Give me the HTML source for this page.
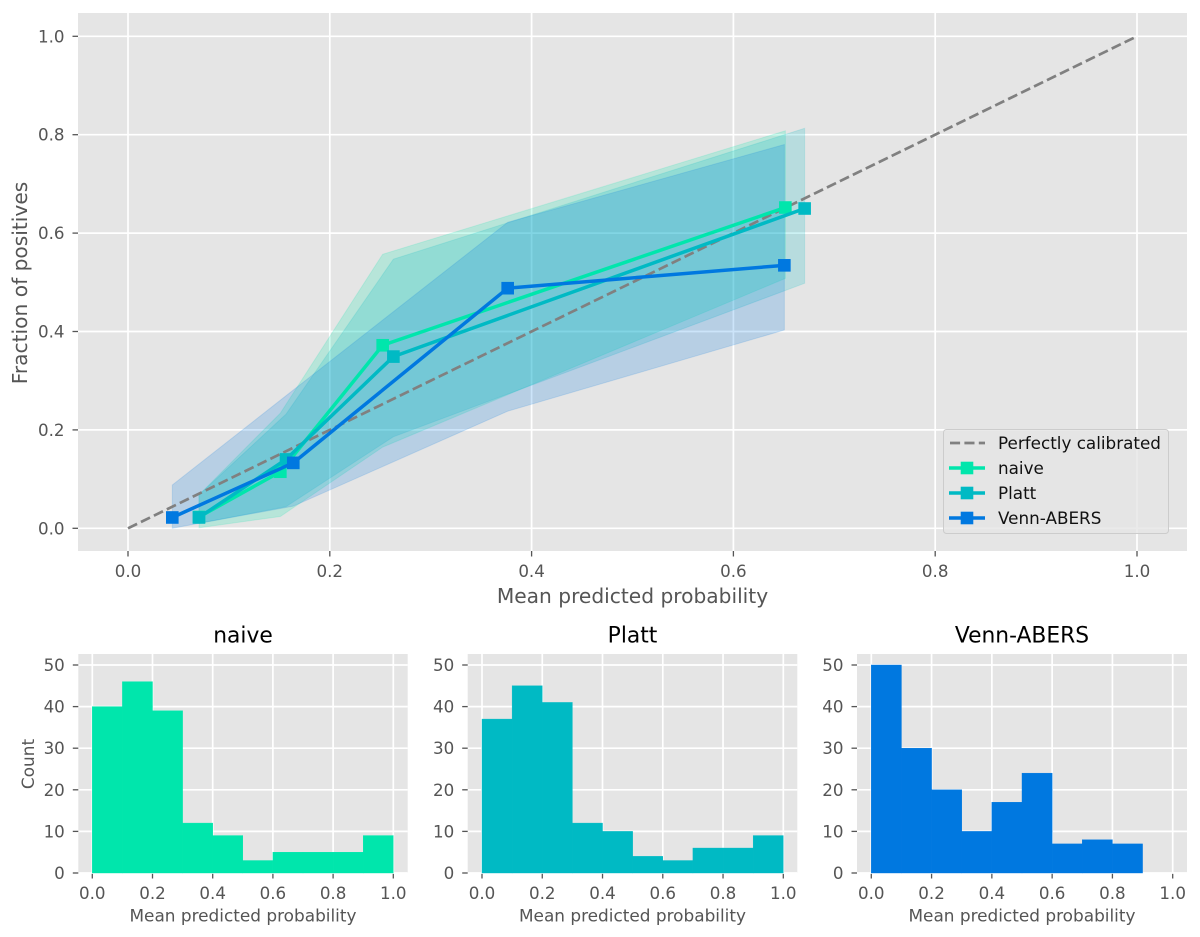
<!DOCTYPE html>
<html lang="en">
<head>
<meta charset="utf-8">
<title>Calibration curves</title>
<style>
html,body{margin:0;padding:0;background:#fff;}
svg{display:block;font-family:"DejaVu Sans","Liberation Sans",sans-serif;}
</style>
</head>
<body>
<svg id="chart" xmlns="http://www.w3.org/2000/svg" width="1200" height="937" viewBox="0 0 1200 937"></svg>
<script>
const mainXTicks = [0, 0.2, 0.4, 0.6, 0.8, 1];
const mainYTicks = [0, 0.2, 0.4, 0.6, 0.8, 1];
const histXTicks = [0, 0.2, 0.4, 0.6, 0.8, 1];
const histYTicks = [0, 10, 20, 30, 40, 50];
const diagonalX = [0, 1];
const diagonalY = [0, 1];

const naiveX = [0.0704, 0.151, 0.2524, 0.6515];
const naiveY = [0.023, 0.115, 0.372, 0.652];
const naiveLower = [0.001, 0.024, 0.165, 0.508];
const naiveUpper = [0.068, 0.234, 0.557, 0.808];

const plattX = [0.0703, 0.1566, 0.263, 0.6706];
const plattY = [0.022, 0.14, 0.349, 0.65];
const plattLower = [0.01, 0.044, 0.186, 0.498];
const plattUpper = [0.068, 0.232, 0.547, 0.813];

const vennX = [0.0439, 0.1638, 0.3763, 0.6505];
const vennY = [0.022, 0.133, 0.488, 0.5345];
const vennLower = [0, 0.045, 0.238, 0.403];
const vennUpper = [0.088, 0.281, 0.622, 0.78];

const histBins = [0, 0.1, 0.2, 0.3, 0.4, 0.5, 0.6, 0.7, 0.8, 0.9, 1];
const naiveCounts = [40, 46, 39, 12, 9, 3, 5, 5, 5, 9];
const plattCounts = [37, 45, 41, 12, 10, 4, 3, 6, 6, 9];
const vennCounts = [50, 30, 20, 10, 17, 24, 7, 8, 7, 0];

const NAIVE = '#00e6ac', PLATT = '#00bac4', VENN = '#0078e0';
const svg = document.getElementById('chart');
const NS = 'http://www.w3.org/2000/svg';

function make(parent, tag, attrs, name, text) {
  const el = document.createElementNS(NS, tag);
  for (const k in attrs) el.setAttribute(k, attrs[k]);
  
  
  if (text !== undefined) el.textContent = text;
  parent.appendChild(el);
  return el;
}

function drawAxes(g, prefix, box, sx, sy, xTicks, yTicks, fmtY) {
  make(g, 'rect', {x: box.l, y: box.t, width: box.r - box.l, height: box.b - box.t, fill: '#e5e5e5'}, prefix + '-plot-area');
  xTicks.forEach(t => {
    make(g, 'line', {x1: sx(t), x2: sx(t), y1: box.t, y2: box.b, stroke: '#fff', 'stroke-width': 1.7}, prefix + '-x-grid-line');
    make(g, 'line', {x1: sx(t), x2: sx(t), y1: box.b, y2: box.b + 5.5, stroke: '#555', 'stroke-width': 1.3}, prefix + '-x-tick');
    make(g, 'text', {x: sx(t), y: box.b + 26, 'text-anchor': 'middle', 'font-size': 16.7, fill: '#555'}, prefix + '-x-tick-label', t.toFixed(1));
  });
  yTicks.forEach(t => {
    make(g, 'line', {x1: box.l, x2: box.r, y1: sy(t), y2: sy(t), stroke: '#fff', 'stroke-width': 1.7}, prefix + '-y-grid-line');
    make(g, 'line', {x1: box.l - 5.5, x2: box.l, y1: sy(t), y2: sy(t), stroke: '#555', 'stroke-width': 1.3}, prefix + '-y-tick');
    make(g, 'text', {x: box.l - 13.5, y: sy(t) + 6, 'text-anchor': 'end', 'font-size': 16.7, fill: '#555'}, prefix + '-y-tick-label', fmtY(t));
  });
}

/* ---------- main calibration plot ---------- */
const mainBox = {l: 78, r: 1187, t: 13, b: 551};
const mx = v => 128 + v * 1009;
const my = v => 528.3 - v * 492;
const mainG = make(svg, 'g', {}, 'calibration-plot');
drawAxes(mainG, 'main', mainBox, mx, my, mainXTicks, mainYTicks, t => t.toFixed(1));

function drawBand(xs, lo, hi, color, name) {
  const upper = xs.map((x, i) => mx(x) + ',' + my(hi[i]));
  const lower = xs.map((x, i) => mx(x) + ',' + my(lo[i])).reverse();
  make(mainG, 'polygon', {points: upper.concat(lower).join(' '), fill: color, 'fill-opacity': 0.2, stroke: color, 'stroke-opacity': 0.15, 'stroke-width': 1}, name);
}
drawBand(naiveX, naiveLower, naiveUpper, NAIVE, 'naive-confidence-band');
drawBand(plattX, plattLower, plattUpper, PLATT, 'platt-confidence-band');
drawBand(vennX, vennLower, vennUpper, VENN, 'venn-abers-confidence-band');

make(mainG, 'polyline', {points: diagonalX.map((x, i) => mx(x) + ',' + my(diagonalY[i])).join(' '), fill: 'none', stroke: '#808080', 'stroke-width': 2.7, 'stroke-dasharray': '10.1 4.3'}, 'perfectly-calibrated-line');

function drawSeries(xs, ys, color, name) {
  make(mainG, 'polyline', {points: xs.map((x, i) => mx(x) + ',' + my(ys[i])).join(' '), fill: 'none', stroke: color, 'stroke-width': 3.5}, name + '-line');
  xs.forEach((x, i) => {
    make(mainG, 'rect', {x: mx(x) - 6.3, y: my(ys[i]) - 6.3, width: 12.6, height: 12.6, fill: color}, name + '-point');
  });
}
drawSeries(naiveX, naiveY, NAIVE, 'naive');
drawSeries(plattX, plattY, PLATT, 'platt');
drawSeries(vennX, vennY, VENN, 'venn-abers');

make(mainG, 'text', {x: 632.5, y: 603, 'text-anchor': 'middle', 'font-size': 20.2, fill: '#555'}, 'main-x-axis-title', 'Mean predicted probability');
make(mainG, 'text', {x: 0, y: 0, transform: 'translate(27 283) rotate(-90)', 'text-anchor': 'middle', 'font-size': 20.2, fill: '#555'}, 'main-y-axis-title', 'Fraction of positives');

/* ---------- legend ---------- */
const legendG = make(mainG, 'g', {}, 'legend');
make(legendG, 'rect', {x: 943.5, y: 429.5, width: 225, height: 104, rx: 3, fill: '#e5e5e5', 'fill-opacity': 0.8, stroke: '#cccccc', 'stroke-width': 1}, 'legend-frame');
const legendLabels = ['Perfectly calibrated', 'naive', 'Platt', 'Venn-ABERS'];
const legendColors = ['#808080', NAIVE, PLATT, VENN];
legendLabels.forEach((label, i) => {
  const y = 443 + i * 25;
  if (i === 0) {
    make(legendG, 'line', {x1: 950, x2: 985, y1: y, y2: y, stroke: legendColors[i], 'stroke-width': 2.7, 'stroke-dasharray': '10.1 4.3'}, 'legend-dashed-swatch');
  } else {
    make(legendG, 'line', {x1: 949, x2: 985, y1: y, y2: y, stroke: legendColors[i], 'stroke-width': 3.5}, 'legend-line-swatch');
    make(legendG, 'rect', {x: 960.7, y: y - 6.3, width: 12.6, height: 12.6, fill: legendColors[i]}, 'legend-marker-swatch');
  }
  make(legendG, 'text', {x: 998, y: y + 6, 'font-size': 16.8, fill: '#111'}, 'legend-entry', label);
});

/* ---------- histograms ---------- */
function drawHist(cfg) {
  const box = {l: cfg.l, r: cfg.r, t: 654, b: 873};
  const sx = v => cfg.x0 + v * (cfg.x1 - cfg.x0);
  const sy = v => 873 - v * 4.16;
  const g = make(svg, 'g', {}, cfg.prefix + '-histogram');
  drawAxes(g, cfg.prefix, box, sx, sy, histXTicks, histYTicks, t => String(t));
  cfg.counts.forEach((c, i) => {
    if (c <= 0) return;
    make(g, 'rect', {x: sx(histBins[i]), y: sy(c), width: sx(histBins[i + 1]) - sx(histBins[i]), height: sy(0) - sy(c), fill: cfg.color, stroke: cfg.color, 'stroke-width': 0.4}, cfg.prefix + '-bar');
  });
  const c = (cfg.l + cfg.r) / 2;
  make(g, 'text', {x: c, y: 642.5, 'text-anchor': 'middle', 'font-size': 21.8, fill: '#000'}, cfg.prefix + '-title', cfg.title);
  make(g, 'text', {x: c, y: 921.5, 'text-anchor': 'middle', 'font-size': 16.9, fill: '#555'}, cfg.prefix + '-x-axis-title', 'Mean predicted probability');
  if (cfg.yLabel) {
    make(g, 'text', {x: 0, y: 0, transform: 'translate(34 764) rotate(-90)', 'text-anchor': 'middle', 'font-size': 16.9, fill: '#555'}, cfg.prefix + '-y-axis-title', cfg.yLabel);
  }
}
drawHist({prefix: 'naive', title: 'naive', color: NAIVE, counts: naiveCounts, l: 78.3, r: 407.7, x0: 92.3, x1: 393.3, yLabel: 'Count'});
drawHist({prefix: 'platt', title: 'Platt', color: PLATT, counts: plattCounts, l: 467.7, r: 797.3, x0: 482, x1: 783.3});
drawHist({prefix: 'venn-abers', title: 'Venn-ABERS', color: VENN, counts: vennCounts, l: 857, r: 1187, x0: 871.3, x1: 1172.7});
</script>
</body>
</html>
